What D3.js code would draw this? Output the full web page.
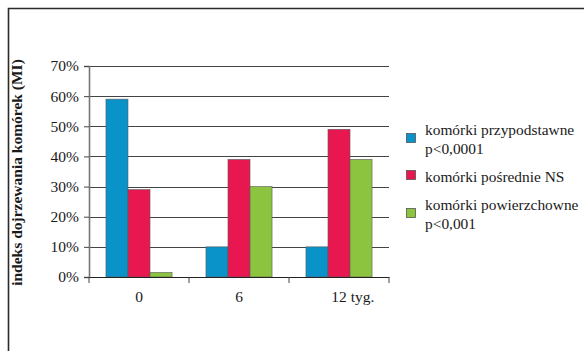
<!DOCTYPE html>
<html>
<head>
<meta charset="utf-8">
<script src="https://cdn.jsdelivr.net/npm/d3@7"></script>
<style>
  html, body { margin: 0; padding: 0; background: #fff; }
  svg { display: block; }
  svg text { font-family: "Liberation Serif", "Tinos", "DejaVu Serif", "Noto Serif", "Times New Roman", Times, serif; fill: #1a1a1a; }
</style>
</head>
<body>
<svg id="chart" width="584" height="351"></svg>
<script>
// Maturation index by cell layer over time
const categories = ["0", "6", "12"];
const categorySuffix = ["", "", " tyg."];
const seriesNames = ["komórki przypodstawne", "komórki pośrednie NS", "komórki powierzchowne"];
const seriesNotes = ["p<0,0001", "", "p<0,001"];
const seriesColors = ["#0a93c8", "#e8174f", "#8cc43f"];
const basalValues = [59, 10, 10];
const intermediateValues = [29, 39, 49];
const superficialValues = [1.5, 30, 39];
const yTicks = [0, 10, 20, 30, 40, 50, 60, 70];
const yTitle = "indeks dojrzewania komórek (MI)";

const series = [basalValues, intermediateValues, superficialValues];

const svg = d3.select("#chart");

// outer frame (left and top edges)
svg.append("path")
  .attr("d", "M8.5,351 V8.5 H584")
  .attr("fill", "none")
  .attr("stroke", "#2a2a2a")
  .attr("stroke-width", 1.6);

const plot = { left: 89, right: 389, top: 66, bottom: 277 };

const x = d3.scaleBand()
  .domain(categories)
  .range([plot.left, plot.right])
  .paddingInner(0)
  .paddingOuter(0);

const xInner = d3.scaleBand()
  .domain(d3.range(series.length))
  .range([0, x.bandwidth()])
  .paddingOuter(0.77)
  .paddingInner(0);

const y = d3.scaleLinear().domain([0, 70]).range([plot.bottom, plot.top]);

// horizontal gridlines
svg.append("g")
  .selectAll("line")
  .data(yTicks.filter(d => d > 0))
  .join("line")
  .attr("x1", plot.left)
  .attr("x2", plot.right)
  .attr("y1", d => Math.round(y(d)) + 0.5)
  .attr("y2", d => Math.round(y(d)) + 0.5)
  .attr("stroke", "#444")
  .attr("stroke-width", 1);

// bars
const groups = svg.append("g")
  .selectAll("g")
  .data(series)
  .join("g")
  .attr("fill", (d, i) => seriesColors[i]);

groups.selectAll("rect")
  .data((vals, si) => vals.map((v, ci) => ({ v, ci, si })))
  .join("rect")
  .attr("x", d => x(categories[d.ci]) + xInner(d.si))
  .attr("width", xInner.bandwidth())
  .attr("y", d => y(d.v))
  .attr("height", d => y(0) - y(d.v))
  .attr("stroke", "#5a5a5a")
  .attr("stroke-width", 0.6);

// y axis
const yAxis = svg.append("g")
  .attr("transform", `translate(${plot.left},0)`)
  .call(d3.axisLeft(y).tickValues(yTicks).tickSize(5).tickPadding(5).tickFormat(d => d + "%"));
yAxis.attr("font-family", null);
yAxis.select(".domain").attr("stroke", "#777").attr("stroke-width", 1.6);
yAxis.selectAll(".tick line").attr("stroke", "#444");
yAxis.selectAll(".tick text").attr("font-size", 15.5);

// x axis
const xAxis = svg.append("g")
  .attr("transform", `translate(0,${plot.bottom})`)
  .call(d3.axisBottom(x).tickSize(0).tickPadding(14));
xAxis.attr("font-family", null);
xAxis.select(".domain").attr("stroke", "#222").attr("stroke-width", 1.2);
xAxis.selectAll(".tick text")
  .attr("font-size", 15.5)
  .each(function (d, i) {
    const t = d3.select(this);
    if (categorySuffix[i]) {
      const w = this.getComputedTextLength();
      t.text(d + categorySuffix[i]).attr("text-anchor", "start").attr("x", -w / 2);
    }
  });

// category separator ticks on the x axis
svg.append("g")
  .selectAll("line")
  .data(categories.concat(["end"]))
  .join("line")
  .attr("x1", (d, i) => plot.left + i * x.bandwidth())
  .attr("x2", (d, i) => plot.left + i * x.bandwidth())
  .attr("y1", plot.bottom)
  .attr("y2", plot.bottom + 6)
  .attr("stroke", "#444");

// y axis title
svg.append("text")
  .attr("transform", `translate(22,${(plot.top + plot.bottom) / 2 + 1}) rotate(-90)`)
  .attr("text-anchor", "middle")
  .attr("font-size", 15.5)
  .attr("font-weight", "bold")
  .text(yTitle);

// legend
const legendRows = [
  { y: 135, lines: [seriesNames[0], seriesNotes[0]] },
  { y: 182, lines: [seriesNames[1]] },
  { y: 210, lines: [seriesNames[2], seriesNotes[2]] }
];
const legend = svg.append("g");
legendRows.forEach((row, i) => {
  legend.append("rect")
    .attr("x", 406.5)
    .attr("y", i === 1 ? row.y - 11.5 : row.y - 1.5)
    .attr("width", 9)
    .attr("height", 9)
    .attr("fill", seriesColors[i])
    .attr("stroke", "#555")
    .attr("stroke-width", 0.8);
  const t = legend.append("text")
    .attr("x", 425)
    .attr("y", row.y)
    .attr("font-size", 15.4);
  row.lines.forEach((ln, k) => {
    t.append("tspan").attr("x", 425).attr("dy", k === 0 ? 0 : 18.5).text(ln);
  });
});
</script>
</body>
</html>
